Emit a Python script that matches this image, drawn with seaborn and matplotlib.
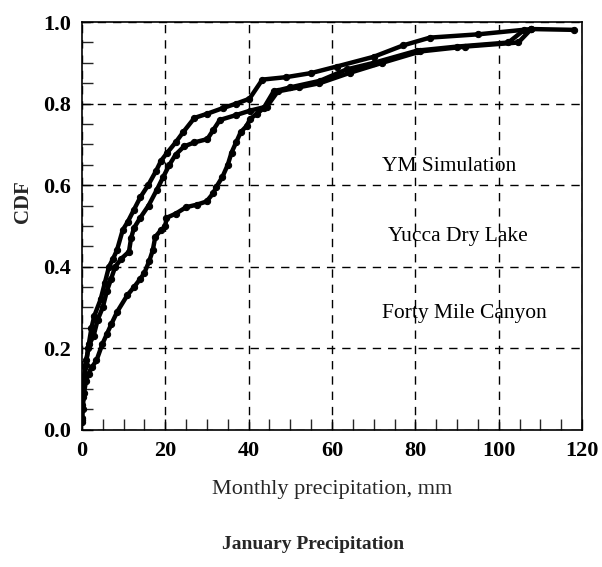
import matplotlib
matplotlib.use("Agg")
import matplotlib.pyplot as plt
import seaborn as sns
import pandas as pd
from matplotlib.ticker import MultipleLocator

# ---- data ----
curve_a_x = [0, 0.1, 0.3, 0.5, 1.0, 1.5, 2.3, 3.0, 4.5, 5.5, 6.5, 7.5, 8.4, 9.8, 11.0, 12.5,
             14.0, 15.9, 17.8, 19.0, 20.5, 22.5, 24.3, 27.0, 30.0, 33.8, 37.0, 40.2, 43.3,
             49.0, 55.0, 61.1, 70.0, 77.1, 83.5, 95.0, 107.8, 118.0]
curve_a_y = [0.025, 0.06, 0.09, 0.12, 0.16, 0.2, 0.25, 0.28, 0.32, 0.36, 0.4, 0.42, 0.44, 0.49,
             0.51, 0.54, 0.57, 0.6, 0.635, 0.66, 0.68, 0.705, 0.73, 0.765, 0.775, 0.789, 0.80,
             0.812, 0.859, 0.865, 0.875, 0.891, 0.915, 0.943, 0.962, 0.97, 0.983, 0.981]

curve_b_x = [0, 0.2, 0.5, 1.0, 1.8, 2.8, 3.8, 5.0, 6.0, 7.0, 8.0, 9.5, 11.3, 11.8, 12.5, 14.0,
             16.0, 18.0, 19.5, 21.0, 22.5, 24.5, 27.0, 30.1, 31.5, 33.1, 37.0, 40.4, 44.4, 47.0,
             52.0, 57.0, 64.4, 72.0, 81.2, 92.0, 104.7, 107.8]
curve_b_y = [0.03, 0.08, 0.13, 0.17, 0.21, 0.23, 0.27, 0.3, 0.34, 0.37, 0.4, 0.42, 0.437, 0.47,
             0.495, 0.52, 0.55, 0.589, 0.62, 0.65, 0.675, 0.695, 0.705, 0.713, 0.735, 0.76,
             0.772, 0.783, 0.793, 0.83, 0.84, 0.85, 0.876, 0.9, 0.928, 0.94, 0.95, 0.983]

curve_c_x = [0, 0.2, 0.5, 1.0, 1.6, 2.5, 3.5, 4.9, 6.0, 7.1, 8.5, 10.9, 12.5, 14.0, 15.0, 16.2,
             17.0, 17.6, 19.0, 20.0, 20.3, 22.5, 25.0, 27.5, 29.9, 31.5, 32.2, 33.7, 35.0, 35.9,
             37.0, 38.1, 39.5, 40.4, 42.0, 43.6, 46.0, 50.0, 57.1, 63.5, 70.0, 80.4, 90.0,
             102.3, 106.0]
curve_c_y = [0.02, 0.05, 0.09, 0.12, 0.137, 0.155, 0.17, 0.21, 0.235, 0.26, 0.29, 0.33, 0.35,
             0.37, 0.385, 0.415, 0.44, 0.473, 0.49, 0.499, 0.52, 0.53, 0.546, 0.552, 0.56, 0.58,
             0.595, 0.62, 0.65, 0.68, 0.705, 0.73, 0.745, 0.763, 0.775, 0.789, 0.83, 0.84,
             0.856, 0.884, 0.9, 0.93, 0.94, 0.95, 0.98]

series_labels = ["YM Simulation", "Yucca Dry Lake", "Forty Mile Canyon"]
label_x = [72, 73.5, 72]
label_y = [0.645, 0.475, 0.285]

x_ticks = [0, 20, 40, 60, 80, 100, 120]
y_ticks = [0.0, 0.2, 0.4, 0.6, 0.8, 1.0]
x_label = "Monthly precipitation, mm"
y_label = "CDF"
title = "January Precipitation"

# ---- plotting ----
sns.set_theme(style="ticks")
plt.rcParams["font.family"] = ["Liberation Serif", "DejaVu Serif"]

fig = plt.figure(figsize=(6.02, 5.67), dpi=100)
ax = fig.add_axes([0.136, 0.242, 0.831, 0.719])

for cx, cy in [(curve_a_x, curve_a_y), (curve_b_x, curve_b_y), (curve_c_x, curve_c_y)]:
    df = pd.DataFrame({"x": cx, "y": cy})
    sns.lineplot(data=df, x="x", y="y", ax=ax, color="black", linewidth=3.2,
                 marker="o", markersize=4.5, markeredgecolor="black",
                 estimator=None, sort=False)

ax.set_xlim(0, 120)
ax.set_ylim(0, 1.0)
ax.set_xticks(x_ticks)
ax.set_yticks(y_ticks)
ax.set_yticklabels([f"{v:.1f}" for v in y_ticks])
ax.xaxis.set_minor_locator(MultipleLocator(5))
ax.yaxis.set_minor_locator(MultipleLocator(0.05))
ax.tick_params(axis="both", which="major", direction="in", length=8, width=1,
               labelsize=16, colors="black", top=False, right=False, pad=8)
ax.tick_params(axis="both", which="minor", direction="in", length=8, width=1,
               top=False, right=False)
for lbl in ax.get_xticklabels() + ax.get_yticklabels():
    lbl.set_fontweight("bold")

ax.grid(True, which="major", linestyle=(0, (6, 5)), color="black", linewidth=1)
for sp in ax.spines.values():
    sp.set_visible(True)
    sp.set_color("black")
    sp.set_linewidth(1.2)

ax.set_xlabel(x_label, fontsize=16, labelpad=14)
ax.set_ylabel(y_label, fontsize=15, fontweight="bold")
ax.yaxis.set_label_coords(-0.098, 0.56)

for t, tx, ty in zip(series_labels, label_x, label_y):
    ax.text(tx, ty, t, fontsize=15.5, ha="left", va="center", color="black")

fig.text(0.52, 0.04, title, fontsize=14, fontweight="bold", ha="center", va="center")

fig.savefig("out.png", dpi=100, facecolor="white")
